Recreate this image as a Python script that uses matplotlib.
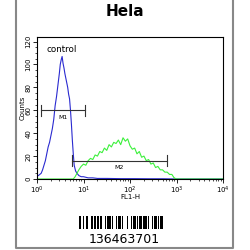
import numpy as np
import matplotlib
matplotlib.use("Agg")
import matplotlib.pyplot as plt
from matplotlib.ticker import LogLocator, FixedLocator, NullFormatter

title = "Hela"
barcode_text = "136463701"

# log10(FL1-H) positions and counts
blue_log = [0.0, 0.03, 0.06, 0.09, 0.12, 0.15, 0.18, 0.21, 0.24, 0.27, 0.30, 0.33, 0.36,
            0.39, 0.42, 0.45, 0.48, 0.50, 0.52, 0.54, 0.56, 0.58, 0.60, 0.62, 0.64,
            0.66, 0.68, 0.70, 0.72, 0.74, 0.76, 0.78, 0.80, 0.83, 0.86, 0.90, 0.95,
            1.0, 1.1, 1.2, 1.3, 1.5, 1.8, 2.1, 2.4, 2.7, 3.0, 3.5, 4.0]
blue_cnt = [3, 3, 4, 5, 8, 12, 16, 22, 28, 32, 38, 44, 52,
            64, 72, 82, 92, 100, 104, 107, 101, 97, 92, 88, 84,
            80, 74, 70, 60, 48, 34, 22, 12, 7, 5, 3, 2,
            2, 1, 1, 0.5, 0.5, 0.3, 0.3, 0.2, 0.2, 0, 0, 0]

green_log = [0.0, 0.5, 0.78, 0.82, 0.86, 0.90, 0.95, 1.00, 1.05, 1.10, 1.15, 1.20, 1.25,
             1.30, 1.35, 1.40, 1.45, 1.50, 1.55, 1.60, 1.65, 1.70, 1.75, 1.80, 1.85,
             1.90, 1.95, 2.00, 2.05, 2.10, 2.15, 2.20, 2.25, 2.30, 2.35, 2.40, 2.45,
             2.50, 2.55, 2.60, 2.65, 2.70, 2.75, 2.80, 2.85, 2.90, 2.95, 3.0, 3.5, 4.0]
green_cnt = [0, 0, 0, 2, 5, 8, 11, 13, 12, 16, 18, 17, 21,
             20, 24, 23, 27, 25, 30, 28, 32, 31, 34, 30, 36,
             33, 35, 29, 26, 27, 22, 24, 19, 20, 16, 17, 13,
             14, 10, 11, 8, 8, 6, 6, 4, 4, 1, 0, 0, 0]

markers = {"M1": (1.22, 10.7, 60), "M2": (5.6, 630, 16)}

fig = plt.figure(figsize=(2.5, 2.5), dpi=100)

# outer frame of the panel
frame = fig.add_axes([0, 0, 1, 1], facecolor="none")
frame.set_xlim(0, 250)
frame.set_ylim(250, 0)
frame.axis("off")
frame.plot([16, 16, 233, 233], [0, 248, 248, 0], color="#888888", lw=1.5)

fig.text(0.5, 0.952, title, ha="center", va="center", fontsize=11, fontweight="bold")

ax = fig.add_axes([0.148, 0.284, 0.744, 0.568])
ax.set_xscale("log")
ax.set_xlim(1, 1e4)
ax.set_ylim(0, 124)

ax.plot(10 ** np.array(blue_log), blue_cnt, color="#2a2ad0", lw=0.8)
ax.plot(10 ** np.array(green_log), green_cnt, color="#3cf03c", lw=0.8)

for name, (x0, x1, y) in markers.items():
    ax.plot([x0, x1], [y, y], color="#333333", lw=0.8)
    ax.plot([x0, x0], [y - 5, y + 5], color="#333333", lw=0.8)
    ax.plot([x1, x1], [y - 5, y + 5], color="#333333", lw=0.8)
    ax.text(np.sqrt(x0 * x1), y - 4, name, ha="center", va="top", fontsize=4.5)

ax.text(1.6, 113, "control", fontsize=6.3, va="center")

ax.yaxis.set_major_locator(FixedLocator([0, 20, 40, 60, 80, 100, 120]))
ax.yaxis.set_minor_locator(FixedLocator(np.arange(0, 125, 5)))
ax.xaxis.set_major_locator(LogLocator(base=10, numticks=10))
ax.xaxis.set_minor_locator(LogLocator(base=10, subs=np.arange(2, 10), numticks=20))
ax.xaxis.set_minor_formatter(NullFormatter())
ax.tick_params(which="major", direction="out", length=3, width=0.6, labelsize=5, pad=1)
ax.tick_params(which="minor", direction="out", length=1.5, width=0.5)
plt.setp(ax.get_yticklabels(), rotation=90, va="center")
for s in ax.spines.values():
    s.set_linewidth(0.8)
ax.set_xlabel("FL1-H", fontsize=5, labelpad=-1)
ax.set_ylabel("Counts", fontsize=5, labelpad=0)

# barcode
bar_w = [2, 1, 1, 2, 1, 3, 1, 1, 2, 1, 1, 1, 2, 2, 1, 1, 3, 1, 1, 2, 1, 1, 2, 1, 1, 3, 1, 2, 1, 1,
         2, 1, 1, 1, 2, 1, 3, 1, 1, 2, 1, 1, 2, 1, 1, 1, 2, 1]
pos = 79.0
scale = 85.0 / sum(bar_w)
for i, w in enumerate(bar_w):
    if i % 2 == 0:
        frame.fill_between([pos, pos + w * scale], 216, 229, color="black", lw=0)
    pos += w * scale
fig.text(0.496, 0.043, barcode_text, ha="center", va="center", fontsize=9)

fig.savefig("out.png", dpi=100)
